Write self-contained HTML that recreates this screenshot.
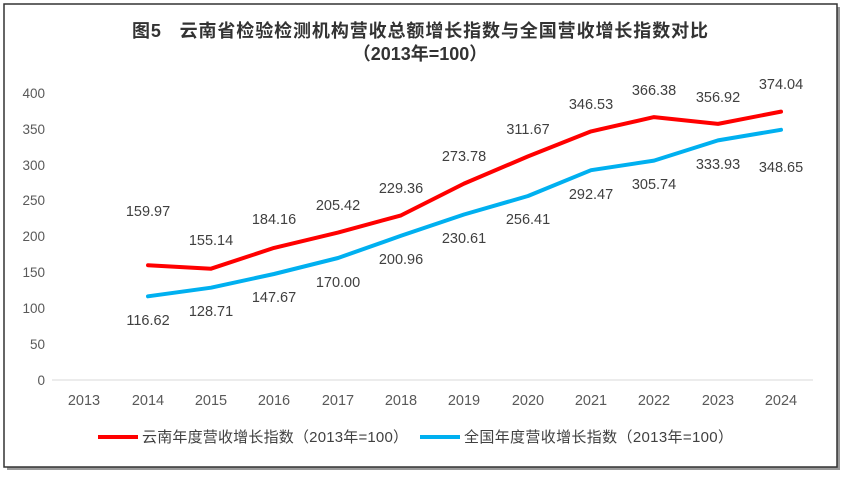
<!DOCTYPE html>
<html><head><meta charset="utf-8"><style>
body{margin:0;background:#fff;width:847px;height:478px;overflow:hidden}
svg{display:block}
text{font-family:"Liberation Sans","Noto Sans CJK SC",sans-serif}
</style></head><body>
<svg width="847" height="478" viewBox="0 0 847 478">
<rect x="7" y="7" width="833" height="463" fill="#999"/>
<rect x="4" y="4" width="833" height="463" fill="#fff" stroke="#333" stroke-width="1.5"/>
<g font-weight="bold" font-size="18" fill="#333" text-anchor="middle">
<text x="420" y="37" xml:space="preserve" textLength="576">图5   云南省检验检测机构营收总额增长指数与全国营收增长指数对比</text>
<text x="420" y="60">（2013年=100）</text>
</g>
<g font-size="13.5" fill="#595959" text-anchor="end">
<text x="45" y="385">0</text><text x="45" y="349">50</text><text x="45" y="313">100</text>
<text x="45" y="277">150</text><text x="45" y="241">200</text><text x="45" y="205">250</text>
<text x="45" y="170">300</text><text x="45" y="134">350</text><text x="45" y="98">400</text>
</g>
<line x1="52" y1="380" x2="813" y2="380" stroke="#d9d9d9"/>
<g font-size="14.5" fill="#595959" text-anchor="middle">
<text x="84" y="405">2013</text><text x="148" y="405">2014</text><text x="211" y="405">2015</text>
<text x="274" y="405">2016</text><text x="338" y="405">2017</text><text x="401" y="405">2018</text>
<text x="464" y="405">2019</text><text x="528" y="405">2020</text><text x="591" y="405">2021</text>
<text x="654" y="405">2022</text><text x="718" y="405">2023</text><text x="781" y="405">2024</text>
</g>
<polyline fill="none" stroke="#ff0000" stroke-width="4" stroke-linejoin="round" stroke-linecap="round"
points="148,265.2 211,268.7 274,247.9 338,232.6 401,215.4 464,183.6 528,156.4 591,131.4 654,117.1 718,123.9 781,111.6"/>
<polyline fill="none" stroke="#00b0f0" stroke-width="4" stroke-linejoin="round" stroke-linecap="round"
points="148,296.3 211,287.7 274,274 338,258 401,235.8 464,214.5 528,196 591,170.2 654,160.6 718,140.4 781,129.8"/>
<g font-size="14.5" fill="#404040" text-anchor="middle">
<text x="148" y="216">159.97</text><text x="211" y="245">155.14</text><text x="274" y="224">184.16</text>
<text x="338" y="210">205.42</text><text x="401" y="193">229.36</text><text x="464" y="161">273.78</text>
<text x="528" y="134">311.67</text><text x="591" y="109">346.53</text><text x="654" y="95">366.38</text>
<text x="718" y="102">356.92</text><text x="781" y="89">374.04</text>
<text x="148" y="325">116.62</text><text x="211" y="316">128.71</text><text x="274" y="302">147.67</text>
<text x="338" y="287">170.00</text><text x="401" y="264">200.96</text><text x="464" y="243">230.61</text>
<text x="528" y="224">256.41</text><text x="591" y="199">292.47</text><text x="654" y="189">305.74</text>
<text x="718" y="169">333.93</text><text x="781" y="172">348.65</text>
</g>
<line x1="98" y1="437" x2="138" y2="437" stroke="#ff0000" stroke-width="4"/>
<text x="142" y="442" font-size="15" fill="#404040" textLength="266">云南年度营收增长指数（2013年=100）</text>
<line x1="420" y1="437" x2="460" y2="437" stroke="#00b0f0" stroke-width="4"/>
<text x="464" y="442" font-size="15" fill="#404040" textLength="269">全国年度营收增长指数（2013年=100）</text>
</svg>
</body></html>
